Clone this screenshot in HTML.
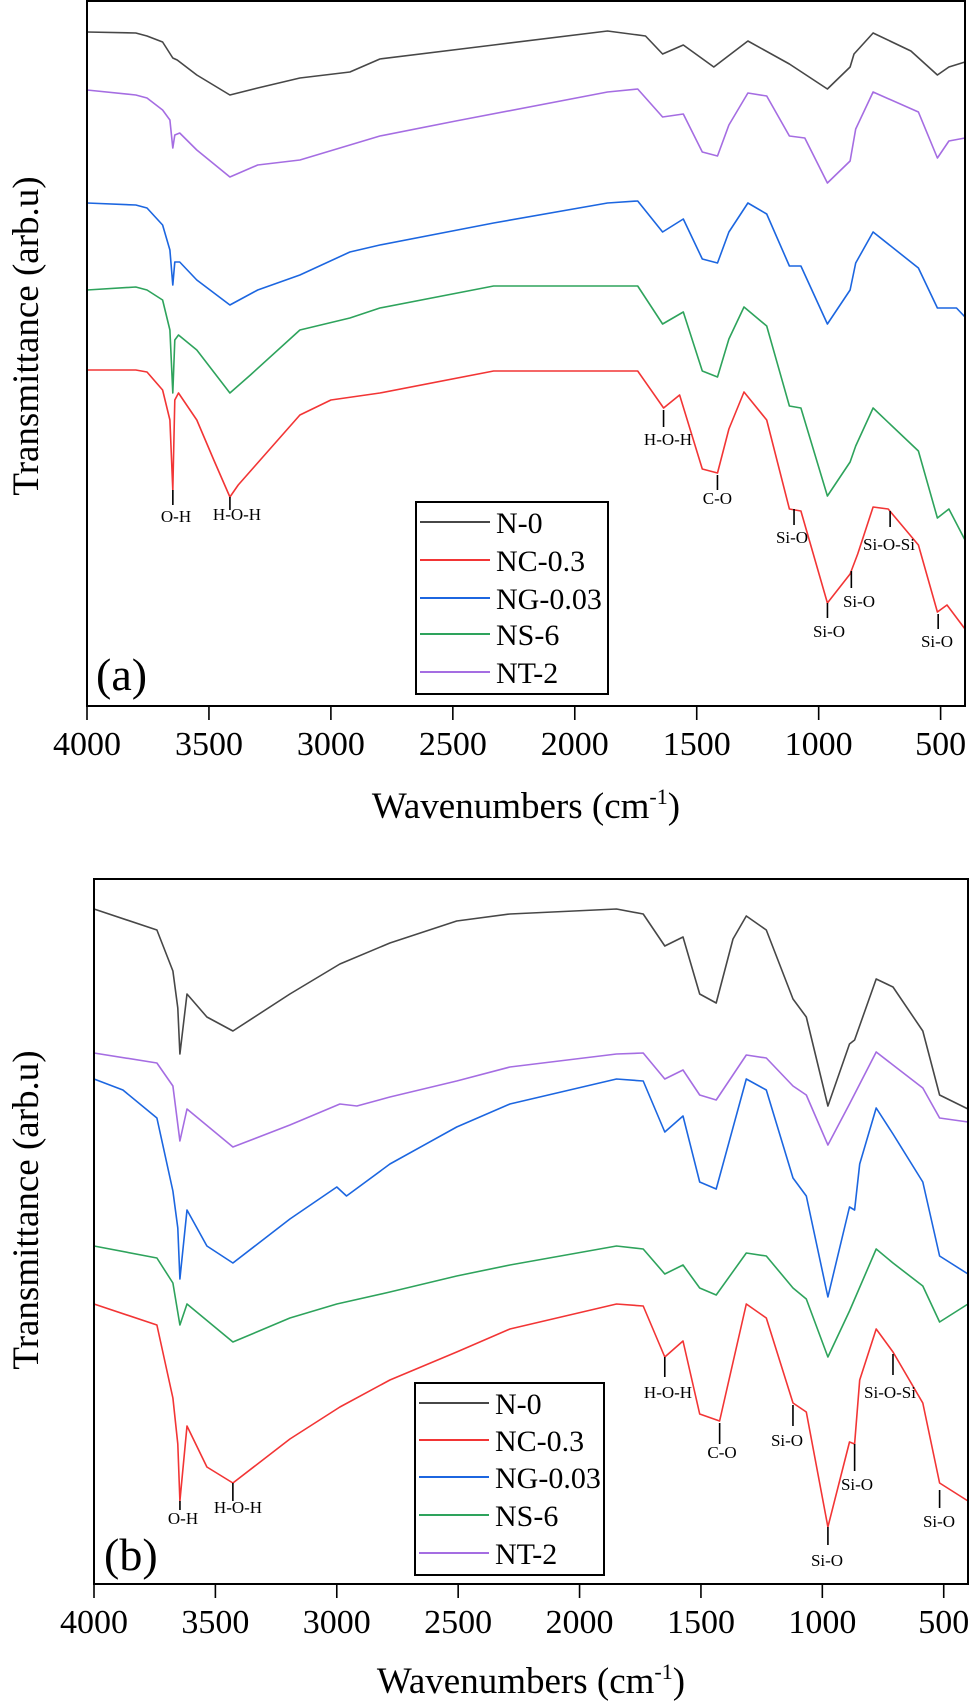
<!DOCTYPE html>
<html>
<head>
<meta charset="utf-8">
<style>
  html,body{margin:0;padding:0;background:#fff;}
  svg{display:block;}
  text{font-family:"Liberation Serif","DejaVu Serif",serif;fill:#000;}
</style>
</head>
<body>
<svg id="fig" width="971" height="1707" viewBox="0 0 971 1707" xmlns="http://www.w3.org/2000/svg"></svg>
<script>
// ---------- DATA (wavenumber in cm-1, transmittance in arbitrary units) ----------
const xTicks = [4000, 3500, 3000, 2500, 2000, 1500, 1000, 500];
const seriesNames = ["N-0", "NC-0.3", "NG-0.03", "NS-6", "NT-2"];

// Panel (a)
const aN0wn = [4000,3800,3754,3690,3648,3630,3550,3414,3300,3127,2922,2799,2333,1866,1710,1640,1555,1430,1290,1120,964,871,855,777,622,513,466,400];
const aN0t  = [674,673,670,664,648,646,631,611,618,628,634,647,661,675,670,652,661,639,665,642,617,639,652,673,655,631,639,644];
const aNT2wn = [4000,3800,3754,3690,3660,3648,3640,3620,3550,3414,3300,3127,2922,2799,2488,1866,1742,1640,1555,1477,1415,1368,1290,1213,1120,1057,964,871,848,777,591,513,466,400];
const aNT2t  = [616,611,608,596,586,558,571,573,556,529,541,546,561,570,585,614,617,589,592,554,550,581,613,610,570,568,523,545,577,614,594,548,565,568];
const aNGwn = [4000,3800,3754,3690,3660,3648,3640,3620,3550,3414,3300,3127,2922,2799,2333,1866,1742,1640,1555,1477,1415,1368,1290,1213,1120,1073,964,871,848,777,591,513,435,400];
const aNGt  = [503,501,498,481,456,421,444,444,426,401,416,431,454,461,483,503,505,474,487,447,443,474,503,492,440,440,382,416,443,474,438,398,398,389];
const aNSwn = [4000,3800,3754,3690,3660,3648,3640,3625,3550,3414,3330,3127,2922,2799,2333,1742,1640,1555,1477,1415,1368,1306,1213,1120,1073,964,871,848,777,591,513,466,400];
const aNSt  = [416,419,416,406,376,313,366,371,356,313,331,376,388,398,420,420,382,394,335,329,367,399,380,300,298,210,244,260,298,255,188,197,166];
const aNCwn = [4000,3800,3754,3690,3660,3648,3640,3625,3550,3480,3414,3380,3127,3000,2799,2333,1742,1636,1570,1477,1415,1368,1306,1213,1120,1073,964,871,840,777,715,591,513,474,400];
const aNCt  = [336,336,334,316,286,216,306,313,286,246,209,221,291,306,313,335,335,298,311,237,233,277,314,286,197,195,103,132,152,199,197,161,94,101,77];

// Panel (b)
const bN0wn = [4000,3741,3675,3655,3646,3617,3535,3428,3193,2987,2781,2506,2287,1848,1738,1649,1574,1505,1437,1368,1313,1231,1121,1066,977,888,867,778,709,586,517,400];
const bN0t  = [675,654,613,576,530,590,567,553,590,620,641,663,670,675,670,638,647,590,581,645,668,654,585,567,478,540,544,605,597,553,489,475];
const bNT2wn = [4000,3741,3675,3646,3617,3428,3193,2987,2917,2781,2506,2287,1848,1738,1649,1574,1505,1437,1313,1231,1121,1066,977,888,778,709,586,517,400];
const bNT2t  = [531,521,498,443,475,437,459,480,478,487,503,517,530,531,505,514,489,484,529,526,498,489,439,480,532,519,496,466,462];
const bNGwn = [4000,3881,3741,3675,3655,3646,3617,3535,3428,3193,3000,2960,2781,2506,2287,1848,1738,1649,1574,1505,1437,1313,1231,1121,1066,977,888,867,846,778,709,586,517,400];
const bNGt  = [505,494,466,393,356,305,374,338,321,365,397,388,420,457,480,505,503,452,468,402,395,505,494,406,388,287,377,374,420,476,450,402,328,310];
const bNSwn = [4000,3741,3675,3646,3617,3428,3193,3000,2781,2506,2287,1848,1738,1649,1574,1505,1437,1313,1231,1121,1066,977,888,778,709,586,517,400];
const bNSt  = [338,326,301,259,280,242,266,280,292,308,319,338,335,310,319,296,289,331,328,296,285,227,273,335,321,298,262,280];
const bNCwn = [4000,3741,3675,3655,3646,3617,3535,3428,3193,2987,2781,2506,2287,1848,1738,1649,1574,1505,1423,1313,1231,1121,1066,977,888,867,846,778,709,586,517,400];
const bNCt  = [280,259,186,140,83,158,117,101,145,177,204,232,255,280,278,227,243,170,163,280,266,181,172,57,142,140,204,255,232,181,101,83];

// Peak annotations: wavenumber, label
const aPeakWn = [3648,3414,1636,1415,1101,707,866,964,510];
const bPeakWn = [3646,3428,1649,1423,1121,709,867,977,517];
const peakLabels = ["O-H","H-O-H","H-O-H","C-O","Si-O","Si-O-Si","Si-O","Si-O","Si-O"];

// ---------- RENDERING ----------
const NS = "http://www.w3.org/2000/svg";
const svg = document.getElementById("fig");
const colors = {"N-0":"#474747","NC-0.3":"#f23535","NG-0.03":"#1c66e0","NS-6":"#2ea35c","NT-2":"#a56de2"};

function mk(tag, attrs, parent){
  const e = document.createElementNS(NS, tag);
  for (const k in attrs) e.setAttribute(k, attrs[k]);
  (parent || svg).appendChild(e);
  return e;
}

const panels = [
  {id:"a", left:87, right:965, top:1, bottom:706, tickBase:755, titleBase:818, titleX:526, yTitleY:336,
   label:"(a)", labelX:96, labelBase:690,
   legend:{x:416,y:502,w:192,h:192,rows:[522,560,598,634,672]},
   series:[["N-0",aN0wn,aN0t],["NT-2",aNT2wn,aNT2t],["NG-0.03",aNGwn,aNGt],["NS-6",aNSwn,aNSt],["NC-0.3",aNCwn,aNCt]],
   peaks:aPeakWn,
   ann:[[490,505,522,176],[497,510,520,237],[410,427,445,668],[475,490,504,null],[509,525,543,792],[511,527,550,889],[571,588,607,859],[603,618,637,829],[614,629,647,937]]},
  {id:"b", left:94, right:968, top:879, bottom:1584, tickBase:1633, titleBase:1693, titleX:531, yTitleY:1210,
   label:"(b)", labelX:104, labelBase:1570,
   legend:{x:415,y:1383,w:189,h:192,rows:[1403,1440,1477,1515,1553]},
   series:[["N-0",bN0wn,bN0t],["NT-2",bNT2wn,bNT2t],["NG-0.03",bNGwn,bNGt],["NS-6",bNSwn,bNSt],["NC-0.3",bNCwn,bNCt]],
   peaks:bPeakWn,
   ann:[[1501,1510,1524,183],[1483,1501,1513,238],[1357,1377,1398,668],[1423,1444,1458,722],[1405,1426,1446,787],[1354,1375,1398,890],[1444,1471,1490,857],[1527,1545,1566,827],[1490,1508,1527,939]]}
];

panels.forEach(p => {
  const sx = wn => p.left + (4000 - wn) * (p.right - p.left) / 3600;
  const sy = v => p.bottom - v * (p.bottom - p.top) / 705;

  const g = mk("g", {});
  
  

  // series
  p.series.forEach(s => {
    const [name, wn, t] = s;
    let d = "";
    for (let i = 0; i < wn.length; i++) d += (i ? "L" : "M") + sx(wn[i]).toFixed(1) + "," + sy(t[i]).toFixed(1);
    const path = mk("path", {d:d, fill:"none", stroke:colors[name], "stroke-width":1.6, "stroke-linejoin":"round"}, g);
    
    
  });

  // peak annotations
  p.ann.forEach((a, i) => {
    const x = sx(p.peaks[i]);
    const tk = mk("line", {x1:x, x2:x, y1:a[0], y2:a[1], stroke:"#000", "stroke-width":1.6}, g);
    
    
    const lx = a[3] === null ? x : a[3];
    const tx = mk("text", {x:lx, y:a[2], "text-anchor":"middle", "font-size":17}, g);
    tx.textContent = peakLabels[i];
    
    
  });

  // frame
  const fr = mk("rect", {x:p.left, y:p.top, width:p.right - p.left, height:p.bottom - p.top, fill:"none", stroke:"#000", "stroke-width":2}, g);
  
  

  // x ticks
  xTicks.forEach(v => {
    const x = sx(v);
    const tl = mk("line", {x1:x, x2:x, y1:p.bottom, y2:p.bottom + 14, stroke:"#000", "stroke-width":1.6}, g);
    
    
    const lb = mk("text", {x:x, y:p.tickBase, "text-anchor":"middle", "font-size":34}, g);
    lb.textContent = v;
    
    
  });

  // x title
  const xt = mk("text", {x:p.titleX, y:p.titleBase, "text-anchor":"middle", "font-size":37}, g);
  xt.innerHTML = 'Wavenumbers (cm<tspan dy="-14" font-size="22">-1</tspan><tspan dy="14">)</tspan>';
  
  

  // y title
  const yt = mk("text", {x:0, y:0, "text-anchor":"middle", "font-size":37, transform:"translate(38," + p.yTitleY + ") rotate(-90)"}, g);
  yt.textContent = "Transmittance (arb.u)";
  
  

  // panel label
  const pl = mk("text", {x:p.labelX, y:p.labelBase, "font-size":46}, g);
  pl.textContent = p.label;
  
  

  // legend
  const L = p.legend;
  const lg = mk("g", {}, g);
  
  
  const lr = mk("rect", {x:L.x, y:L.y, width:L.w, height:L.h, fill:"#fff", stroke:"#000", "stroke-width":2}, lg);
  
  
  seriesNames.forEach((n, i) => {
    const y = L.rows[i];
    const ll = mk("line", {x1:L.x + 4, x2:L.x + 74, y1:y, y2:y, stroke:colors[n], "stroke-width":2}, lg);
    
    
    const lt = mk("text", {x:L.x + 80, y:y + 11, "font-size":30}, lg);
    lt.textContent = n;
    
    
  });
});
</script>
</body>
</html>
